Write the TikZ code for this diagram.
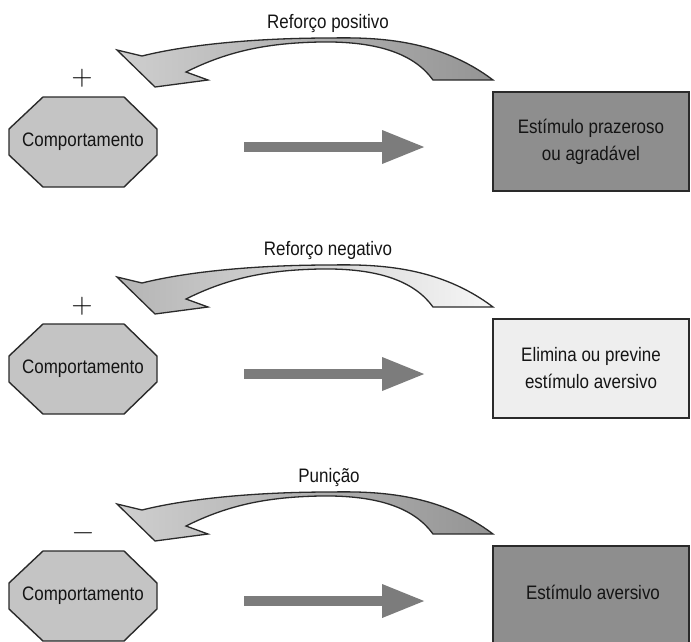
\documentclass[tikz,border=0pt]{standalone}
\usepackage{fontspec}
\newfontfamily\lblfont{Liberation Sans}[FakeStretch=0.87]
\newfontfamily\signfont{Latin Modern Roman}
\usetikzlibrary{calc,arrows.meta}
\definecolor{outline}{HTML}{2A2A2A}
\definecolor{octfill}{HTML}{C4C4C4}
\definecolor{boxdark}{HTML}{8E8E8E}
\definecolor{boxlight}{HTML}{EEEEEE}
\definecolor{arrowgray}{HTML}{7C7C7C}
\definecolor{cvlight}{HTML}{CFCFCF}
\definecolor{cvwhite}{HTML}{EDEDED}
\definecolor{cvdark}{HTML}{949494}
\definecolor{cvmid}{HTML}{B4B4B4}
\definecolor{cvpale}{HTML}{F6F6F6}
\begin{document}
\begin{tikzpicture}[x=1pt,y=-1pt,
  txt/.style={font=\lblfont\fontsize{19.5}{27}\selectfont, inner sep=0pt, text=black!92},
  octbox/.style={txt, minimum width=148pt, minimum height=90pt},
  octline/.style={draw=outline, line width=1.4pt, fill=octfill, line join=round},
  stimbox/.style={txt, draw=outline, line width=1.8pt, minimum width=196pt, minimum height=99pt, align=center},
  signnode/.style={font=\signfont\fontsize{29}{29}\selectfont, inner sep=0pt, text=black},
  bigarrow/.style={draw=arrowgray, line width=10pt, -{Triangle[width=34pt,length=42pt,line width=0pt]}, shorten <=87pt, shorten >=68pt},
  curved/.style={draw=outline, line width=1.3pt, line join=miter}
]
\useasboundingbox (0,0) rectangle (691,641);

% ---------- row 1 ----------
\begin{scope}
\node[txt] (l1) at (328,23) {Reforço positivo};
\draw[curved, left color=cvlight, middle color=cvwhite, right color=cvdark]
  (493,80) .. controls (440,40) and (380,37) .. (330,38)
  .. controls (260,38) and (190,44) .. (142,56)
  -- (117,50) -- (155,87) -- (208,80) -- (186,72)
  .. controls (230,50) and (270,43) .. (320,42)
  .. controls (380,41) and (415,55) .. (433,80) -- cycle;
\node[signnode] (p1) at (82,78) {+};
\coordinate (o1) at (83,142);
\draw[octline] ($(o1)+(-40,-45)$) -- ($(o1)+(41,-45)$) -- ($(o1)+(74,-13)$) -- ($(o1)+(74,13)$)
  -- ($(o1)+(41,45)$) -- ($(o1)+(-40,45)$) -- ($(o1)+(-74,13)$) -- ($(o1)+(-74,-13)$) -- cycle;
\node[octbox] (c1) at (o1) {Comportamento};
\node[stimbox, fill=boxdark] (s1) at (591,141.5) {Estímulo prazeroso\\ou agradável};
\coordinate (a1) at ($(c1.east)+(0,5)$);
\coordinate (b1) at (a1 -| s1.west);
\draw[bigarrow] (a1) -- (b1);
\end{scope}

% ---------- row 2 ----------
\begin{scope}[yshift=-227pt]
\node[txt] (l2) at (328,23) {Reforço negativo};
\draw[curved, left color=cvmid, middle color=cvwhite, right color=cvpale]
  (493,80) .. controls (440,40) and (380,37) .. (330,38)
  .. controls (260,38) and (190,44) .. (142,56)
  -- (117,50) -- (155,87) -- (208,80) -- (186,72)
  .. controls (230,50) and (270,43) .. (320,42)
  .. controls (380,41) and (415,55) .. (433,80) -- cycle;
\node[signnode] (p2) at (82,79) {+};
\coordinate (o2) at (83,142);
\draw[octline] ($(o2)+(-40,-45)$) -- ($(o2)+(41,-45)$) -- ($(o2)+(74,-13)$) -- ($(o2)+(74,13)$)
  -- ($(o2)+(41,45)$) -- ($(o2)+(-40,45)$) -- ($(o2)+(-74,13)$) -- ($(o2)+(-74,-13)$) -- cycle;
\node[octbox] (c2) at (o2) {Comportamento};
\node[stimbox, fill=boxlight] (s2) at (591,141.5) {Elimina ou previne\\estímulo aversivo};
\coordinate (a2) at ($(c2.east)+(0,5)$);
\coordinate (b2) at (a2 -| s2.west);
\draw[bigarrow] (a2) -- (b2);
\end{scope}

% ---------- row 3 ----------
\begin{scope}[yshift=-454pt]
\node[txt] (l3) at (329,23) {Punição};
\draw[curved, left color=cvlight, middle color=cvwhite, right color=cvdark]
  (493,80) .. controls (440,40) and (380,37) .. (330,38)
  .. controls (260,38) and (190,44) .. (142,56)
  -- (117,50) -- (155,87) -- (208,80) -- (186,72)
  .. controls (230,50) and (270,43) .. (320,42)
  .. controls (380,41) and (415,55) .. (433,80) -- cycle;
\node[signnode] (m3) at (83,83) {−};
\coordinate (o3) at (83,142);
\draw[octline] ($(o3)+(-40,-45)$) -- ($(o3)+(41,-45)$) -- ($(o3)+(74,-13)$) -- ($(o3)+(74,13)$)
  -- ($(o3)+(41,45)$) -- ($(o3)+(-40,45)$) -- ($(o3)+(-74,13)$) -- ($(o3)+(-74,-13)$) -- cycle;
\node[octbox] (c3) at (o3) {Comportamento};
\node[stimbox, fill=boxdark] (s3) at (591,141.5) {};
\node[txt] (t3) at (593,138) {Estímulo aversivo};
\coordinate (a3) at ($(c3.east)+(0,5)$);
\coordinate (b3) at (a3 -| s3.west);
\draw[bigarrow] (a3) -- (b3);
\end{scope}
\end{tikzpicture}
\end{document}
